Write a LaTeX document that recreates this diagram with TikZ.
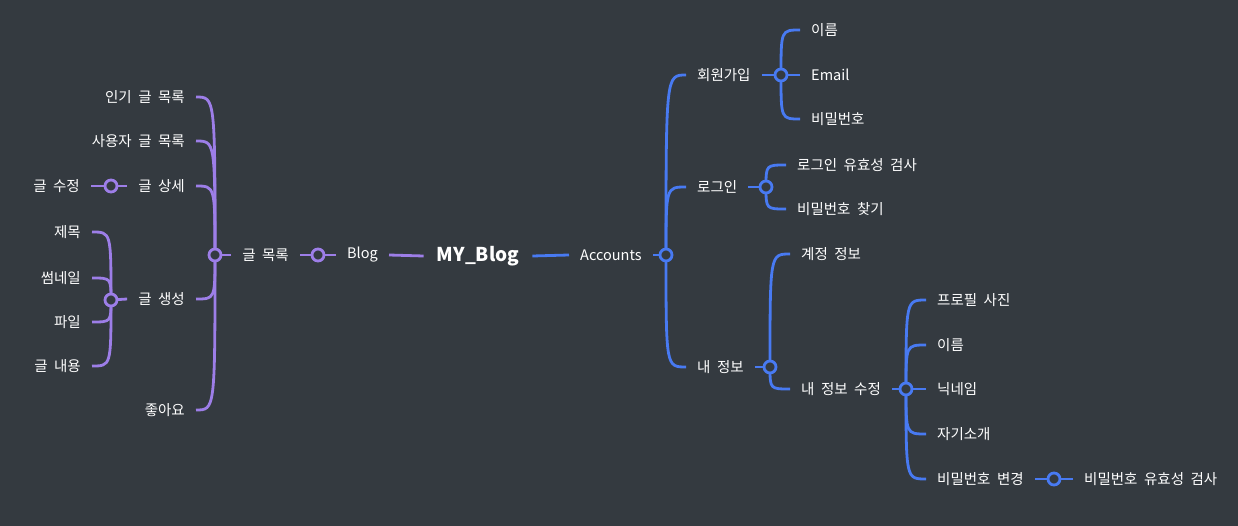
\documentclass[tikz,border=0pt]{standalone}
\usepackage{fontspec}
\setmainfont{Noto Sans CJK KR}[WordSpace=2]
\usetikzlibrary{math}
\definecolor{bgc}{RGB}{52,58,64}
\definecolor{mmpurple}{RGB}{157,126,232}
\definecolor{mmblue}{RGB}{72,122,242}

\begin{document}
\begin{tikzpicture}[x=1pt,y=-1pt,
	lbl/.style={text=white,font=\fontsize{14.5}{16}\selectfont,inner xsep=11pt,inner ysep=2pt},
	pline/.style={draw=mmpurple,line width=2.8pt},
	bline/.style={draw=mmblue,line width=2.8pt},
	hub/.style={circle,fill=bgc,line width=2.8pt,minimum size=12pt,inner sep=0pt}]
	\useasboundingbox[fill=bgc] (0,0) rectangle (1238,526);
	\tikzmath{\lcx=196; \lhx=111; \lkx=92;
	\jx=800; \gx=786; \mx=790; \ex=926;}

	% center
	\node[lbl,font=\bfseries\fontsize{19}{21}\selectfont,inner xsep=13pt] (root) at (478,256) {MY\_Blog};

	% Blog side
	\node[lbl,anchor=west] (blog) at (336,255) {Blog};
	\coordinate (hB) at (318,255);
	\node[lbl,anchor=east] (list) at (300,255) {글 목록};
	\coordinate (hL) at (215,255);
	\node[lbl,anchor=east] (popular) at (\lcx,97) {인기 글 목록};
	\node[lbl,anchor=east] (userlist) at (\lcx,141) {사용자 글 목록};
	\node[lbl,anchor=east] (detail) at (\lcx,186) {글 상세};
	\node[lbl,anchor=east] (create) at (\lcx,299) {글 생성};
	\node[lbl,anchor=east] (like) at (\lcx,410) {좋아요};
	\coordinate (hD) at (\lhx,186);
	\node[lbl,anchor=east] (edit) at (91,186) {글 수정};
	\coordinate (hC) at (\lhx,300);
	\node[lbl,anchor=east] (title) at (\lkx,232) {제목};
	\node[lbl,anchor=east] (thumb) at (\lkx,278) {썸네일};
	\node[lbl,anchor=east] (file) at (\lkx,322) {파일};
	\node[lbl,anchor=east] (body) at (\lkx,366) {글 내용};

	% Accounts side
	\node[lbl,anchor=west] (acc) at (569,255) {Accounts};
	\coordinate (hA) at (666,255);
	\node[lbl,anchor=west] (join) at (686,75) {회원가입};
	\node[lbl,anchor=west] (login) at (686,187) {로그인};
	\node[lbl,anchor=west] (myinfo) at (686,367) {내 정보};
	\coordinate (hJ) at (781,75);
	\node[lbl,anchor=west] (name) at (\jx,30) {이름};
	\node[lbl,anchor=west] (email) at (\jx,75) {Email};
	\node[lbl,anchor=west] (pw) at (\jx,119) {비밀번호};
	\coordinate (hG) at (766,187);
	\node[lbl,anchor=west] (lcheck) at (\gx,165) {로그인 유효성 검사};
	\node[lbl,anchor=west] (find) at (\gx,209) {비밀번호 찾기};
	\coordinate (hM) at (770,367);
	\node[lbl,anchor=west] (account) at (\mx,254) {계정 정보};
	\node[lbl,anchor=west] (medit) at (\mx,389) {내 정보 수정};
	\coordinate (hE) at (906,389);
	\node[lbl,anchor=west] (photo) at (\ex,300) {프로필 사진};
	\node[lbl,anchor=west] (name2) at (\ex,345) {이름};
	\node[lbl,anchor=west] (nick) at (\ex,389) {닉네임};
	\node[lbl,anchor=west] (intro) at (\ex,434) {자기소개};
	\node[lbl,anchor=west] (pwch) at (\ex,479) {비밀번호 변경};
	\coordinate (hP) at (1054,479);
	\node[lbl,anchor=west] (pwcheck) at (1073,479) {비밀번호 유효성 검사};

	% purple links
	\draw[pline] (blog.east) -- (root.west);
	\draw[pline] (blog.west) -- (hB) -- (list.east);
	\draw[pline] (list.west) -- (hL);
	\foreach \c in {popular,userlist,detail,create,like}
		\draw[pline] (hL) .. controls (hL |- \c.east) .. (\c.east);
	\draw[pline] (detail.west) -- (hD) -- (edit.east);
	\draw[pline] (create.west) -- (hC);
	\foreach \c in {title,thumb,file,body}
		\draw[pline] (hC) .. controls (hC |- \c.east) .. (\c.east);

	% blue links
	\draw[bline] (root.east) -- (acc.west);
	\draw[bline] (acc.east) -- (hA);
	\foreach \c in {join,login,myinfo}
		\draw[bline] (hA) .. controls (hA |- \c.west) .. (\c.west);
	\draw[bline] (join.east) -- (hJ);
	\foreach \c in {name,email,pw}
		\draw[bline] (hJ) .. controls (hJ |- \c.west) .. (\c.west);
	\draw[bline] (login.east) -- (hG);
	\foreach \c in {lcheck,find}
		\draw[bline] (hG) .. controls (hG |- \c.west) .. (\c.west);
	\draw[bline] (myinfo.east) -- (hM);
	\foreach \c in {account,medit}
		\draw[bline] (hM) .. controls (hM |- \c.west) .. (\c.west);
	\draw[bline] (medit.east) -- (hE);
	\foreach \c in {photo,name2,nick,intro,pwch}
		\draw[bline] (hE) .. controls (hE |- \c.west) .. (\c.west);
	\draw[bline] (pwch.east) -- (hP) -- (pwcheck.west);

	% hubs
	\foreach \h in {hB,hL,hD,hC}
		\node[hub,draw=mmpurple] at (\h) {};
	\foreach \h in {hA,hJ,hG,hM,hE,hP}
		\node[hub,draw=mmblue] at (\h) {};
\end{tikzpicture}
\end{document}
